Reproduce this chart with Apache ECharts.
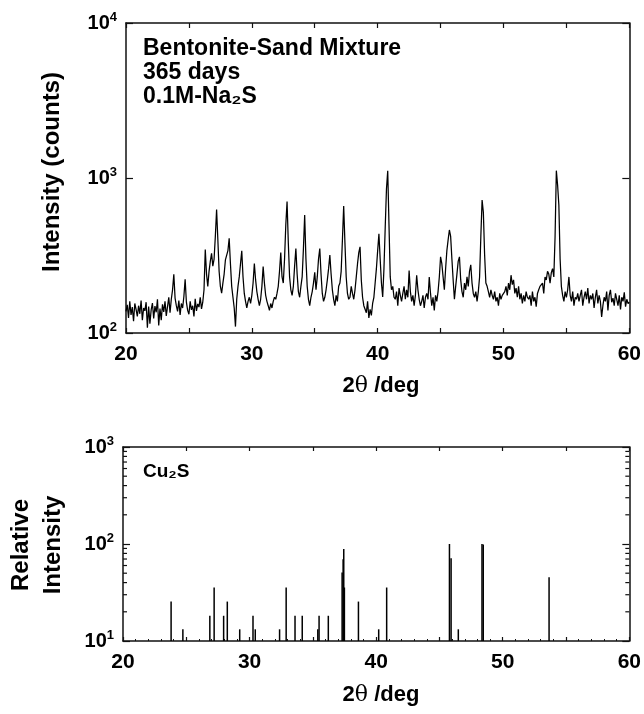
<!DOCTYPE html>
<html>
<head>
<meta charset="utf-8">
<script src="https://cdn.jsdelivr.net/npm/echarts@6/dist/echarts.min.js"></script>
<style>
html, body { margin: 0; padding: 0; background: #fff; }
#chart { width: 644px; height: 714px; }
</style>
</head>
<body>
<div id="chart"></div>
<script>
// XRD scan, 20-60 deg, every 0.1 deg
const scanStart = 20
const scanStep = 0.1
const counts = [
  138, 152, 125, 160, 131, 147, 119, 155, 142, 128,
  150, 133, 162, 121, 145, 139, 158, 108, 148, 115,
  141, 156, 124, 149, 136, 165, 112, 144, 121, 153,
  137, 160, 129, 148, 170, 135, 165, 190, 239, 168,
  150, 138, 162, 131, 155, 145, 172, 222, 158, 140,
  132, 160, 141, 150, 128, 166, 139, 154, 147, 170,
  143, 158, 190, 346, 240, 200, 250, 290, 327, 270,
  300, 420, 626, 400, 250, 200, 181, 210, 240, 296,
  300, 340, 408, 280, 200, 170, 145, 110, 165, 200,
  230, 280, 339, 230, 180, 160, 145, 160, 170, 155,
  175, 210, 281, 220, 185, 165, 150, 165, 200, 268,
  210, 175, 160, 150, 140, 155, 145, 160, 170, 165,
  180, 200, 250, 330, 230, 210, 300, 500, 704, 380,
  230, 190, 175, 200, 270, 351, 240, 185, 170, 200,
  230, 350, 577, 300, 200, 165, 150, 170, 185, 210,
  246, 190, 230, 300, 351, 240, 180, 160, 170, 190,
  220, 260, 318, 240, 190, 165, 150, 175, 160, 200,
  210, 250, 400, 660, 380, 230, 180, 165, 170, 200,
  180, 165, 190, 230, 280, 330, 360, 220, 170, 150,
  150, 135, 160, 125, 142, 130, 155, 170, 210, 260,
  340, 436, 300, 210, 171, 260, 480, 850, 1115, 500,
  230, 190, 200, 170, 165, 185, 150, 195, 175, 160,
  180, 200, 165, 190, 170, 253, 185, 160, 175, 150,
  175, 236, 190, 165, 150, 160, 175, 145, 170, 180,
  165, 230, 180, 150, 170, 140, 175, 160, 185, 230,
  310, 280, 230, 190, 260, 340, 399, 462, 420, 300,
  220, 165, 200, 240, 290, 310, 220, 185, 170, 210,
  190, 230, 200, 250, 275, 210, 180, 170, 185, 160,
  185, 230, 420, 721, 600, 320, 210, 200, 185, 170,
  190, 175, 165, 185, 160, 170, 150, 180, 165, 175,
  170, 185, 200, 175, 210, 190, 236, 205, 220, 180,
  195, 170, 200, 165, 180, 155, 175, 160, 185, 170,
  165, 175, 150, 185, 160, 170, 148, 180, 190, 200,
  195, 210, 180, 230, 220, 250, 240, 210, 245, 260,
  230, 420, 1115, 900, 670, 300, 200, 175, 160, 185,
  170, 190, 230, 175, 160, 185, 150, 170, 165, 180,
  160, 175, 190, 150, 170, 185, 165, 195, 155, 175,
  165, 180, 145, 170, 190, 155, 175, 160, 127, 150,
  170, 160, 185, 140, 175, 190, 158, 168, 150, 180,
  165, 150, 175, 142, 170, 160, 183, 148, 165, 155,
  158
]

// Cu2S reference lines
const stickAngles = [23.8, 24.73, 26.86, 27.2, 27.95, 28.24, 29.22, 30.27, 30.45, 32.37,
  32.89, 33.59, 34.16, 35.39, 35.49, 36.22, 37.31, 37.39, 37.44, 37.49,
  38.6, 40.2, 40.83, 45.79, 45.92, 46.49, 48.36, 48.46, 53.66]
const stickIntensity = [25.5, 13.2, 18.2, 35.6, 18.2, 25.5, 13.2, 18.2, 13.2, 13.2,
  35.6, 18.2, 18.2, 13.2, 18.2, 18.2, 50.7, 69.8, 88.7, 35.6,
  25.5, 13.2, 35.6, 100, 71.5, 13.2, 100, 99, 45.3]

const minorLogTicks = [20, 30, 40, 50, 60, 70, 80, 90, 200, 300, 400, 500, 600, 700, 800, 900]

const font = 'Liberation Sans, Arial, sans-serif'
const ink = '#111'

const scan = counts.map((c, i) => [+(scanStart + i * scanStep).toFixed(2), c])
const sticks = stickAngles.map((a, i) => [a, stickIntensity[i]])

const axisLine = {show: true, lineStyle: {color: ink, width: 1.5}}
const supLabel = {
  formatter: v => '{b|10}{s|' + Math.round(Math.log10(v)) + '}',
  margin: 9,
  rich: {
    b: {fontSize: 20, fontWeight: 'bold', fontFamily: font, color: '#000', lineHeight: 24},
    s: {fontSize: 13, fontWeight: 'bold', fontFamily: font, color: '#000', lineHeight: 13, verticalAlign: 'top'}
  }
}

function xAxes(grid, minor) {
  return [{
    gridIndex: grid, type: 'value', min: 20, max: 60, interval: 5,
    axisLine,
    axisTick: {inside: true, length: minor ? 4 : 5, lineStyle: {color: ink, width: 1.2}},
    minorTick: {show: minor, splitNumber: 5, length: 2, lineStyle: {color: ink, width: 1}},
    axisLabel: {
      formatter: v => v % 10 === 0 ? String(v) : '',
      fontSize: 21, fontWeight: 'bold', fontFamily: font, color: '#000', margin: 11
    },
    splitLine: {show: false}
  }, {
    gridIndex: grid, type: 'value', position: 'top', min: 20, max: 60, interval: 5,
    axisLine,
    axisTick: {inside: true, length: minor ? 4 : 5, lineStyle: {color: ink, width: 1.2}},
    axisLabel: {show: false},
    splitLine: {show: false}
  }]
}

function yAxes(grid, min, max) {
  return [{
    gridIndex: grid, type: 'log', logBase: 10, min, max,
    axisLine,
    axisTick: {inside: true, length: 7, lineStyle: {color: ink, width: 1.2}},
    axisLabel: supLabel,
    splitLine: {show: false}
  }, {
    gridIndex: grid, type: 'log', logBase: 10, min, max, position: 'right',
    axisLine,
    axisTick: {inside: true, length: 7, lineStyle: {color: ink, width: 1.2}},
    axisLabel: {show: false},
    splitLine: {show: false}
  }]
}

const chart = echarts.init(document.getElementById('chart'))
chart.setOption({
  backgroundColor: '#fff',
  animation: false,
  grid: [
    {left: 126, top: 23, width: 510, height: 310},
    {left: 123, top: 447, width: 513, height: 194}
  ],
  xAxis: [...xAxes(0, false), ...xAxes(1, true)],
  yAxis: [...yAxes(0, 100, 10000), ...yAxes(1, 10, 1000)],
  series: [
    {
      type: 'line', xAxisIndex: 0, yAxisIndex: 0, data: scan,
      showSymbol: false, lineStyle: {color: '#000', width: 1.25}
    },
    {
      type: 'custom', xAxisIndex: 2, yAxisIndex: 2, data: sticks,
      renderItem: (params, api) => {
        const a = api.coord([api.value(0), 10])
        const b = api.coord([api.value(0), api.value(1)])
        return {type: 'line', shape: {x1: a[0], y1: a[1], x2: b[0], y2: b[1]}, style: {stroke: '#000', lineWidth: 1.5}}
      }
    },
    {
      // log minor ticks on both sides of the lower panel
      type: 'custom', xAxisIndex: 2, yAxisIndex: 2, clip: false,
      data: minorLogTicks.map(v => [20, v]),
      renderItem: (params, api) => {
        const l = api.coord([20, api.value(1)])
        const r = api.coord([60, api.value(1)])
        return {
          type: 'group', children: [
            {type: 'line', shape: {x1: l[0], y1: l[1], x2: l[0] + 4, y2: l[1]}, style: {stroke: ink, lineWidth: 1.2}},
            {type: 'line', shape: {x1: r[0], y1: r[1], x2: r[0] - 4, y2: r[1]}, style: {stroke: ink, lineWidth: 1.2}}
          ]
        }
      }
    }
  ],
  graphic: [
    {
      type: 'text', x: 52, y: 172, rotation: Math.PI / 2,
      style: {text: 'Intensity (counts)', font: 'bold 24px ' + font, fill: '#000', align: 'center', verticalAlign: 'middle'}
    },
    {
      type: 'text', left: 143, top: 37,
      style: {
        text: 'Bentonite-Sand Mixture\n365 days\n0.1M-Na₂S',
        font: 'bold 23px ' + font, fill: '#000', lineHeight: 24
      }
    },
    {
      type: 'text', x: 381, y: 386,
      style: {
        text: '{b|2}{th|θ}{b| /deg}', align: 'center', verticalAlign: 'middle',
        rich: {
          b: {fontSize: 22, fontWeight: 'bold', fontFamily: font, fill: '#000'},
          th: {fontSize: 22, fontFamily: 'DejaVu Serif, serif', fill: '#000'}
        }
      }
    },
    {
      type: 'text', x: 37, y: 545, rotation: Math.PI / 2,
      style: {text: 'Relative\nIntensity', font: 'bold 24px ' + font, fill: '#000', align: 'center', verticalAlign: 'middle', lineHeight: 32}
    },
    {
      type: 'text', left: 143, top: 461,
      style: {text: 'Cu₂S', font: 'bold 19px ' + font, fill: '#000', lineHeight: 22}
    },
    {
      type: 'text', x: 381, y: 695,
      style: {
        text: '{b|2}{th|θ}{b| /deg}', align: 'center', verticalAlign: 'middle',
        rich: {
          b: {fontSize: 22, fontWeight: 'bold', fontFamily: font, fill: '#000'},
          th: {fontSize: 22, fontFamily: 'DejaVu Serif, serif', fill: '#000'}
        }
      }
    }
  ]
})
</script>
</body>
</html>
